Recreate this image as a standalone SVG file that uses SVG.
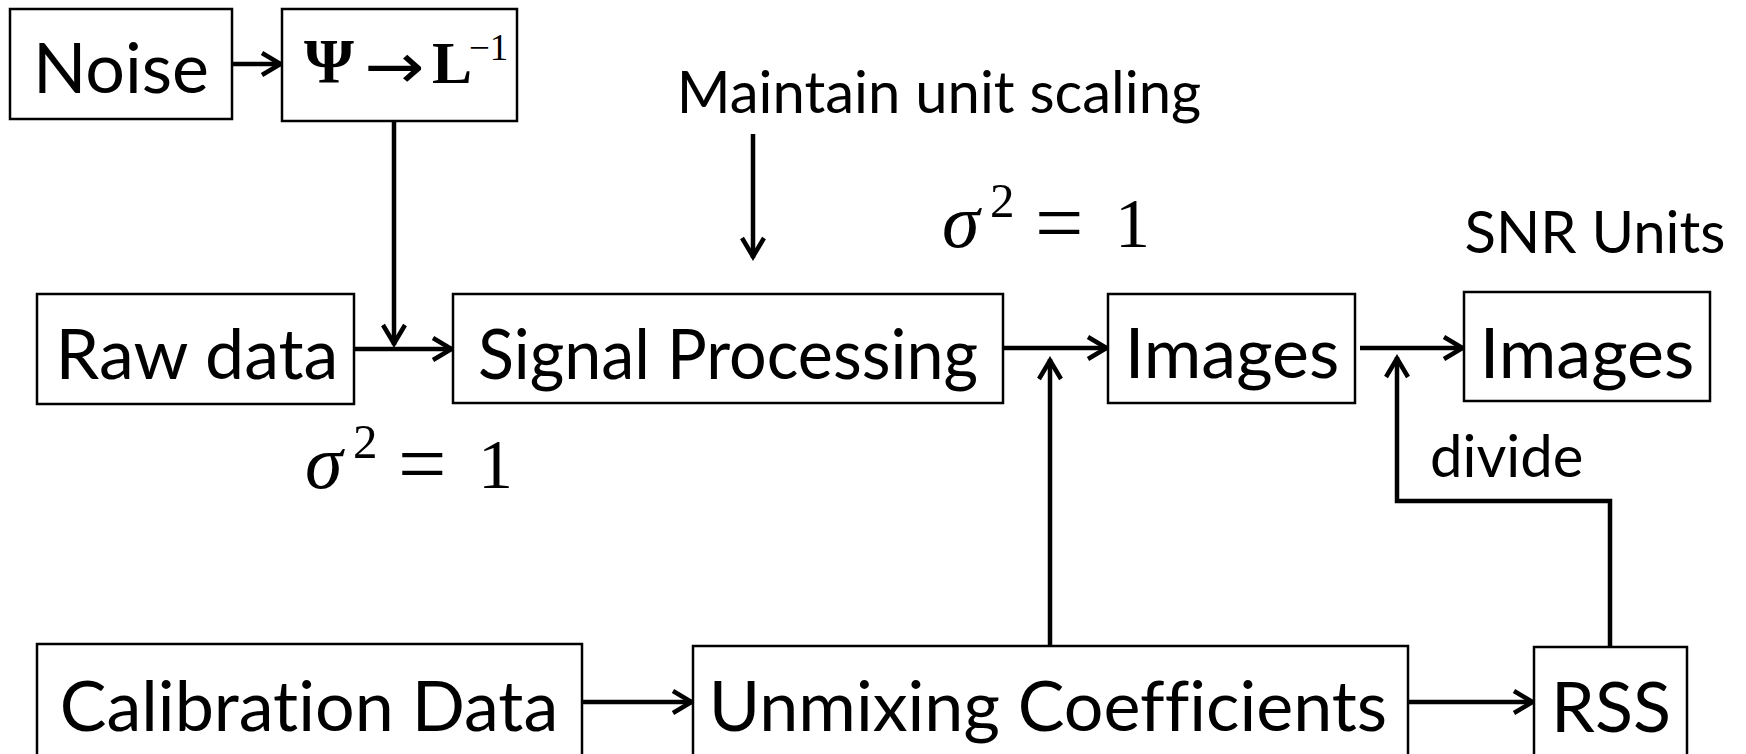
<svg xmlns="http://www.w3.org/2000/svg" width="1746" height="754" viewBox="0 0 1746 754">
<style>
.box{fill:#fff;stroke:#000;stroke-width:2.5}
.lbl{font-family:Lato,"Open Sans","Liberation Sans",sans-serif;font-size:70px;fill:#000;text-anchor:middle;font-variant-ligatures:none}
.note{font-family:Lato,"Open Sans","Liberation Sans",sans-serif;font-size:58px;fill:#000}
.math{font-family:"Liberation Serif","DejaVu Serif",serif;fill:#000}
.arrowglyph{font-family:"DejaVu Sans",sans-serif;fill:#000}
.conn{fill:none;stroke:#000;stroke-width:4.5;marker-end:url(#arr)}
</style>
<defs>
<marker id="arr" markerUnits="userSpaceOnUse" markerWidth="30" markerHeight="30" viewBox="-25 -15 30 30" refX="0" refY="0" orient="auto">
<path d="M-20,-11 L-1.5,0 L-20,11" fill="none" stroke="#000" stroke-width="4.5"/>
</marker>
</defs>
<rect width="1746" height="754" fill="#fff"/>
<g id="connectors">
<line class="conn" x1="232" y1="64" x2="282" y2="64"/>
<line class="conn" x1="394" y1="121" x2="394" y2="345"/>
<line class="conn" x1="354" y1="349" x2="453" y2="349"/>
<line class="conn" x1="753" y1="134" x2="753" y2="258"/>
<line class="conn" x1="1003" y1="348" x2="1108" y2="348"/>
<line class="conn" x1="1050" y1="646" x2="1050" y2="359"/>
<line class="conn" x1="1360" y1="348" x2="1464" y2="348"/>
<path class="conn" d="M1610,647 V501 H1397 V357"/>
<line class="conn" x1="582" y1="702" x2="693" y2="702"/>
<line class="conn" x1="1408" y1="702" x2="1534" y2="702"/>
</g>
<g id="noise"><rect class="box" x="10" y="9" width="222" height="110"/><text class="lbl" x="121" y="93">Noise</text></g>
<g id="psi"><rect class="box" x="282" y="9" width="235" height="112"/>
<text class="math" x="304" y="83" style="font-size:64px;font-weight:bold">Ψ</text>
<text class="arrowglyph" transform="translate(364,88) scale(1.2,1.05)" style="font-size:60px">→</text>
<text class="math" x="432" y="83" style="font-size:60px;font-weight:bold">L</text>
<text class="math" x="469" y="60" style="font-size:37px">−1</text></g>
<g id="raw"><rect class="box" x="37" y="294" width="317" height="110"/><text class="lbl" x="197" y="379">Raw data</text></g>
<g id="signal"><rect class="box" x="453" y="294" width="550" height="109"/><text class="lbl" x="728" y="379" textLength="500" lengthAdjust="spacingAndGlyphs">Signal Processing</text></g>
<g id="images1"><rect class="box" x="1108" y="294" width="247" height="109"/><text class="lbl" x="1232" y="378">Images</text></g>
<g id="images2"><rect class="box" x="1464" y="292" width="246" height="109"/><text class="lbl" x="1587" y="378">Images</text></g>
<g id="calib"><rect class="box" x="37" y="644" width="545" height="115"/><text class="lbl" x="309" y="731">Calibration Data</text></g>
<g id="unmix"><rect class="box" x="693" y="646" width="715" height="115"/><text class="lbl" x="1048" y="731">Unmixing Coefficients</text></g>
<g id="rss"><rect class="box" x="1534" y="647" width="153" height="115"/><text class="lbl" x="1611" y="732">RSS</text></g>
<g id="labels">
<text class="note" x="939" y="113" text-anchor="middle">Maintain unit scaling</text>
<text class="note" x="1595" y="253" text-anchor="middle">SNR Units</text>
<text class="note" x="1430" y="477">divide</text>
<text class="math" style="font-size:70px"><tspan x="305" y="488" style="font-style:italic;font-size:76px">σ</tspan><tspan x="353" y="458" style="font-size:49px">2</tspan><tspan x="398" y="493" style="font-size:86px">=</tspan><tspan x="478" y="488">1</tspan></text>
<text class="math" style="font-size:70px"><tspan x="942" y="247" style="font-style:italic;font-size:76px">σ</tspan><tspan x="990" y="217" style="font-size:49px">2</tspan><tspan x="1035" y="252" style="font-size:86px">=</tspan><tspan x="1115" y="247">1</tspan></text>
</g>
</svg>
